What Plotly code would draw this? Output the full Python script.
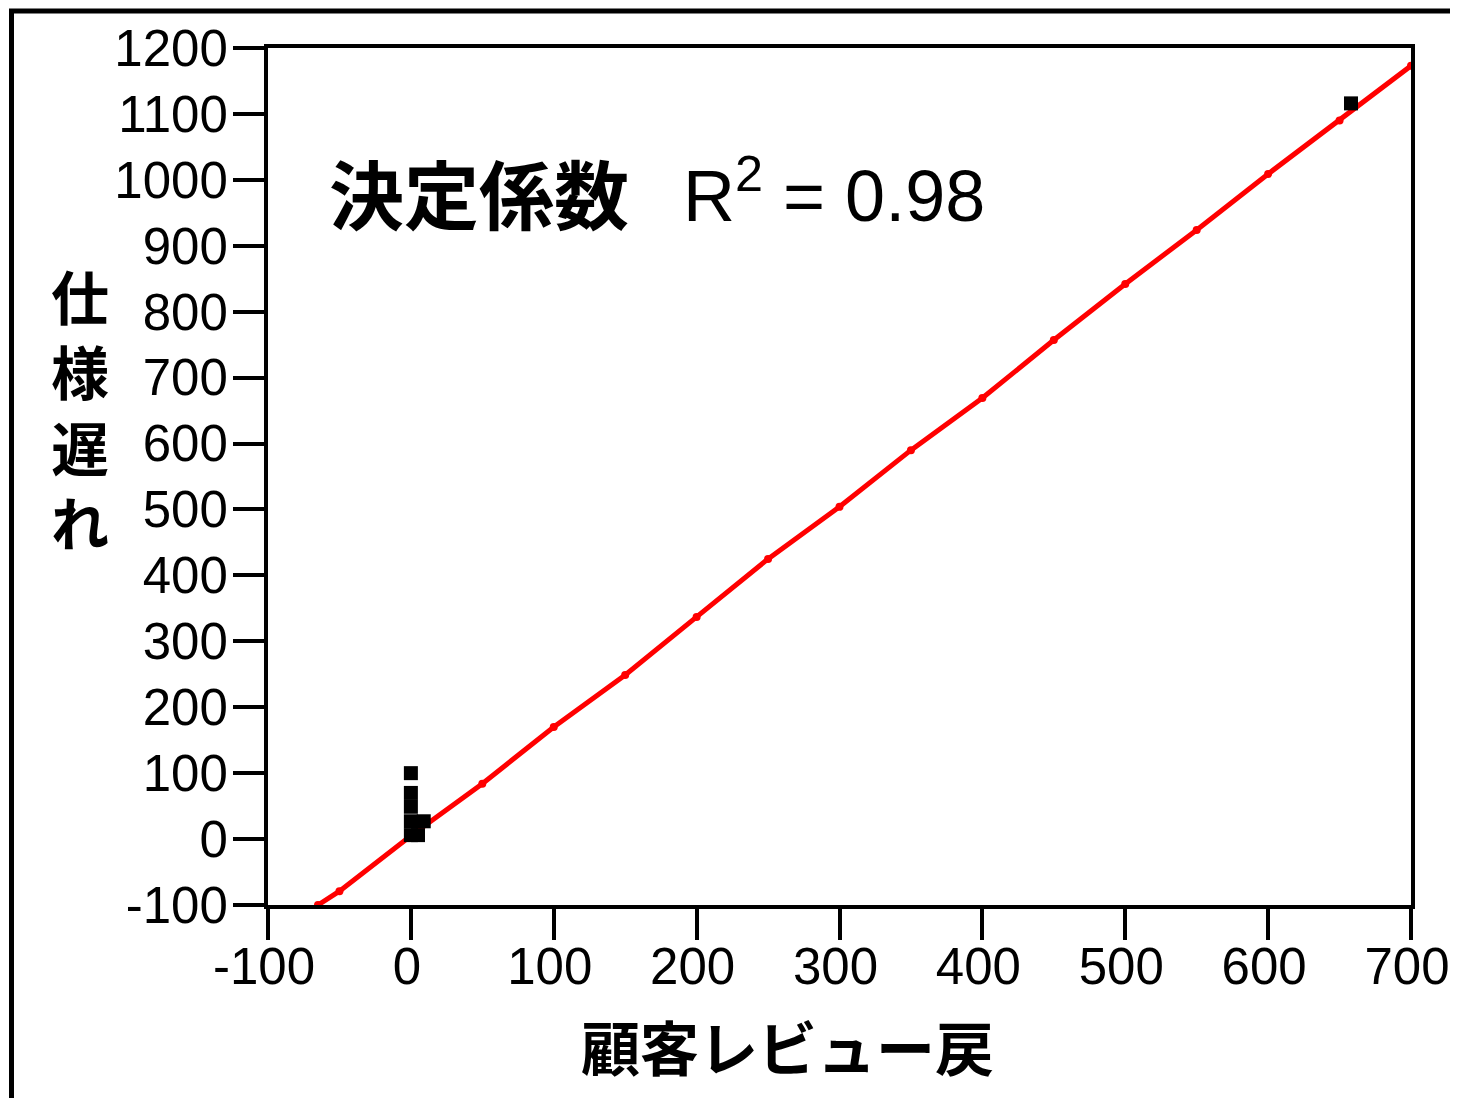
import plotly.graph_objects as go

# ---- data ----
x_tickvals = [-100, 0, 100, 200, 300, 400, 500, 600, 700]
x_ticktext = ["-100", "0", "100", "200", "300", "400", "500", "600", "700"]
y_tickvals = [-100, 0, 100, 200, 300, 400, 500, 600, 700, 800, 900, 1000, 1100, 1200]
y_ticktext = ["-100", "0", "100", "200", "300", "400", "500", "600", "700", "800",
              "900", "1000", "1100", "1200"]

point_x = [0, 0, 0, 0, 0, 9, 5, 658]
point_y = [100, 70, 49, 27, 6, 27, 6, 1116]

fit_x = [-65, -50, 0, 50, 100, 150, 200, 250, 300, 350, 400, 450, 500, 550, 600, 650, 700]
fit_y = [-100, -79, 5, 84, 170, 249, 337, 425, 504, 590, 669, 757, 842, 924, 1009, 1090, 1173]

x_title = "顧客レビュー戻"
y_title_chars = ["仕", "様", "遅", "れ"]
r2_label = "決定係数"
r2_value = "R<sup>2</sup> = 0.98"

LAT = "Liberation Sans, Arial, sans-serif"
CJK = "Noto Sans CJK JP, sans-serif"

# page is 1458x1106; the html body adds an 8px margin on every side
OFF = 8
W, H = 1458 - 2 * OFF, 1106 - 2 * OFF
PL, PR, PT, PB = 268, 1411, 48, 905          # plot-area edges in page pixels
L, R, T, B = PL - OFF, (W + OFF) - PR, PT - OFF, (H + OFF) - PB
pw, ph = PR - PL, PB - PT


def px(xp):
    return (xp - PL) / pw


def py(yp):
    return (PB - yp) / ph


fig = go.Figure()
fig.add_trace(go.Scatter(
    x=fit_x, y=fit_y, mode="lines+markers",
    line=dict(color="#ff0000", width=5),
    marker=dict(color="#ff0000", size=8, symbol="circle"),
    showlegend=False, hoverinfo="skip"))
fig.add_trace(go.Scatter(
    x=point_x, y=point_y, mode="markers",
    marker=dict(color="black", size=14, symbol="square", line=dict(width=0)),
    showlegend=False))

axis_common = dict(
    showgrid=False, zeroline=False, showline=True, linecolor="black", linewidth=4,
    mirror=True, ticks="outside", ticklen=31, tickwidth=4, tickcolor="black",
    tickfont=dict(family=LAT, size=51, color="black"), tickmode="array",
    ticklabeloverflow="allow", automargin=False)

fig.update_xaxes(range=[-100, 700], tickvals=x_tickvals, ticktext=x_ticktext,
                 ticklabelstandoff=-17, ticklabelshift=-4, **axis_common)
fig.update_yaxes(range=[-100, 1200], tickvals=y_tickvals, ticktext=y_ticktext,
                 ticklabelstandoff=-5, **axis_common)

annotations = []
# x axis title
annotations.append(dict(text="<b>" + x_title + "</b>", xref="paper", yref="paper",
                        x=px(787), y=py(1045), xanchor="center", yanchor="middle",
                        showarrow=False, font=dict(family=CJK, size=59, color="black")))
# y axis title, stacked characters
annotations.append(dict(text="<b>" + "<br>".join(y_title_chars) + "</b>",
                        xref="paper", yref="paper",
                        x=px(80), y=py(408), xanchor="center", yanchor="middle",
                        showarrow=False, font=dict(family=CJK, size=58, color="black")))
# R^2 text
annotations.append(dict(text="<b>" + r2_label + "</b>", xref="paper", yref="paper",
                        x=px(327), y=py(191), xanchor="left", yanchor="middle",
                        showarrow=False, font=dict(family=CJK, size=75, color="black")))
annotations.append(dict(text=r2_value, xref="paper", yref="paper",
                        x=px(681), y=py(190), xanchor="left", yanchor="middle",
                        showarrow=False, font=dict(family=LAT, size=72, color="black")))

shapes = [dict(type="rect", xref="paper", yref="paper",
               x0=px(11.5), x1=px(1520), y0=py(1160), y1=py(11),
               line=dict(color="black", width=5), fillcolor="rgba(0,0,0,0)")]

fig.update_layout(
    width=W, height=H, margin=dict(l=L, r=R, t=T, b=B, pad=0, autoexpand=False),
    paper_bgcolor="white", plot_bgcolor="white",
    annotations=annotations, shapes=shapes,
    font=dict(family=LAT, color="black"))

fig.write_html("out.html")
